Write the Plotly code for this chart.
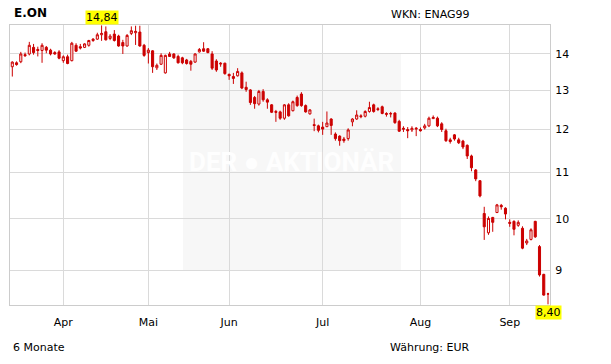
import math
import pandas as pd
import plotly.graph_objects as go

# ---- data -------------------------------------------------------------
holidays = ["2015-04-03", "2015-04-06", "2015-05-01", "2015-05-25"]
dates = [d.strftime("%Y-%m-%d") for d in pd.bdate_range("2015-03-16", "2015-09-14")
         if d.strftime("%Y-%m-%d") not in holidays]

open_ = [13.64, 13.75, 13.78, 13.98, 14.00, 14.19, 14.13, 14.10, 14.19, 14.11,
         14.04, 14.06, 13.81, 13.92, 13.81, 14.25, 14.21, 14.19, 14.25, 14.43,
         14.43, 14.56, 14.65, 14.45, 14.58, 14.52, 14.33, 14.23, 14.60, 14.62,
         14.64, 14.25, 14.04, 14.09, 13.61, 13.71, 13.47, 14.00, 14.00, 13.93,
         13.89, 13.83, 13.79, 13.77, 14.06, 14.15, 14.15, 14.00, 13.80, 13.74,
         13.74, 13.43, 13.37, 13.39, 13.47, 13.08, 13.01, 12.81, 12.64, 12.97,
         12.75, 12.62, 12.45, 12.44, 12.28, 12.62, 12.47, 12.81, 12.90, 12.60,
         12.39, 12.12, 12.09, 12.06, 12.07, 12.26, 11.89, 11.84, 11.77, 11.78,
         12.19, 12.26, 12.34, 12.33, 12.45, 12.62, 12.52, 12.57, 12.40, 12.40,
         12.41, 12.20, 12.03, 12.00, 11.99, 12.01, 12.00, 12.04, 12.09, 12.27,
         12.28, 12.14, 11.97, 11.75, 11.87, 11.75, 11.72, 11.62, 11.37, 11.05,
         10.81, 10.11, 9.72, 10.03, 10.13, 10.28, 10.22, 9.93, 9.95, 9.87,
         9.81, 9.52, 9.59, 9.95, 9.45, 8.93, 8.58]
high = [13.79, 13.79, 14.06, 14.04, 14.35, 14.29, 14.21, 14.31, 14.23, 14.15,
        14.08, 14.11, 13.96, 13.98, 14.35, 14.31, 14.29, 14.31, 14.41, 14.46,
        14.62, 14.84, 14.81, 14.58, 14.70, 14.56, 14.41, 14.58, 14.81, 14.83,
        14.83, 14.29, 14.17, 14.11, 13.73, 14.02, 13.98, 14.06, 14.02, 13.98,
        13.92, 13.86, 13.83, 14.02, 14.17, 14.34, 14.17, 14.08, 13.85, 13.77,
        13.75, 13.45, 13.47, 13.60, 13.51, 13.23, 13.03, 12.85, 13.01, 13.03,
        12.79, 12.64, 12.49, 12.47, 12.64, 12.66, 12.73, 12.86, 12.95, 12.63,
        12.51, 12.27, 12.12, 12.19, 12.45, 12.28, 11.93, 11.86, 11.82, 12.03,
        12.28, 12.48, 12.38, 12.48, 12.70, 12.65, 12.56, 12.60, 12.43, 12.44,
        12.43, 12.24, 12.08, 12.06, 12.08, 12.06, 12.05, 12.14, 12.32, 12.35,
        12.32, 12.18, 12.02, 11.80, 11.89, 11.80, 11.75, 11.64, 11.40, 11.07,
        10.82, 10.25, 10.05, 10.04, 10.31, 10.31, 10.24, 9.99, 9.97, 9.97,
        9.85, 9.60, 9.81, 9.96, 9.48, 8.94, 8.60]
low = [13.37, 13.67, 13.74, 13.92, 13.96, 13.98, 13.93, 13.75, 14.02, 13.96,
       13.98, 13.85, 13.75, 13.71, 13.79, 14.06, 14.13, 14.17, 14.21, 14.35,
       14.41, 14.38, 14.39, 14.40, 14.36, 14.21, 14.00, 14.21, 14.55, 14.26,
       14.21, 13.92, 13.73, 13.47, 13.55, 13.69, 13.45, 13.92, 13.86, 13.73,
       13.71, 13.70, 13.53, 13.75, 14.04, 14.06, 14.02, 13.55, 13.50, 13.64,
       13.42, 13.28, 13.17, 13.37, 13.03, 12.96, 12.62, 12.52, 12.60, 12.70,
       12.52, 12.41, 12.19, 12.24, 12.24, 12.32, 12.45, 12.57, 12.57, 12.42,
       12.37, 11.96, 11.93, 11.87, 12.06, 11.87, 11.73, 11.61, 11.68, 11.73,
       12.08, 12.24, 12.28, 12.30, 12.42, 12.42, 12.46, 12.38, 12.32, 12.30,
       12.14, 11.94, 11.94, 11.79, 11.94, 11.84, 11.95, 12.00, 12.06, 12.26,
       12.06, 11.94, 11.70, 11.66, 11.73, 11.65, 11.53, 11.30, 11.02, 10.80,
       10.45, 9.58, 9.68, 9.74, 10.12, 10.19, 9.99, 9.84, 9.67, 9.84,
       9.40, 9.48, 9.57, 9.62, 8.89, 8.55, 8.40]
close = [13.77, 13.70, 14.00, 13.95, 14.25, 14.04, 14.10, 14.25, 14.11, 14.00,
         14.00, 13.88, 13.92, 13.73, 14.31, 14.08, 14.17, 14.29, 14.39, 14.39,
         14.56, 14.60, 14.41, 14.52, 14.39, 14.23, 14.23, 14.54, 14.68, 14.66,
         14.23, 13.96, 14.11, 13.64, 13.68, 13.96, 13.96, 13.93, 13.89, 13.75,
         13.75, 13.73, 13.71, 14.00, 14.13, 14.08, 14.04, 13.60, 13.55, 13.72,
         13.45, 13.39, 13.32, 13.51, 13.06, 13.02, 12.68, 12.65, 12.97, 12.75,
         12.69, 12.43, 12.43, 12.28, 12.62, 12.34, 12.70, 12.60, 12.60, 12.44,
         12.49, 12.10, 11.98, 12.01, 12.16, 12.10, 11.78, 11.73, 11.73, 11.99,
         12.26, 12.36, 12.32, 12.45, 12.55, 12.45, 12.50, 12.40, 12.38, 12.39,
         12.17, 11.96, 12.01, 11.97, 12.03, 12.03, 11.97, 12.09, 12.28, 12.30,
         12.09, 12.00, 11.73, 11.71, 11.77, 11.68, 11.58, 11.37, 11.10, 10.85,
         10.48, 9.84, 10.01, 9.93, 10.29, 10.25, 10.10, 9.91, 9.79, 9.93,
         9.42, 9.56, 9.78, 9.64, 8.92, 8.56, 8.58]

month_ticks = ["2015-04-01", "2015-05-04", "2015-06-01", "2015-07-01", "2015-08-03", "2015-09-01"]
month_labels = ["Apr", "Mai", "Jun", "Jul", "Aug", "Sep"]
y_ticks = [9, 10, 11, 12, 13, 14]

# ---- figure -----------------------------------------------------------
RED = "#cc0000"
GRID = "#dadada"
FONT = "DejaVu Sans"

fig = go.Figure(go.Candlestick(
    x=dates, open=open_, high=high, low=low, close=close,
    increasing=dict(line=dict(color=RED, width=1), fillcolor="#ffffff"),
    decreasing=dict(line=dict(color=RED, width=1), fillcolor=RED),
    whiskerwidth=0, hoverinfo="skip", showlegend=False,
))

i_hi = max(range(len(high)), key=lambda i: high[i])
i_lo = min(range(len(low)), key=lambda i: low[i])

def de(v):
    return f"{v:.2f}".replace(".", ",")

W, H = 611, 364
ml, mr, mt, mb = 10, 61, 25, 59
pw, ph = W - ml - mr, H - mt - mb

def px(x):
    return (x - ml) / pw

def py(y):
    return (H - mb - y) / ph

annotations = [
    dict(x=dates[i_hi], y=1, xref="x", yref="paper", yanchor="bottom", xanchor="center",
         text=de(high[i_hi]), showarrow=False, bgcolor="#ffff00", borderpad=0,
         font=dict(family=FONT, size=11, color="#000")),
    dict(x=dates[i_lo], y=0, xref="x", yref="paper", yanchor="top", xanchor="center",
         text=de(low[i_lo]), showarrow=False, bgcolor="#ffff00", borderpad=0,
         font=dict(family=FONT, size=11, color="#000")),
    dict(x=px(12), y=py(13), xref="paper", yref="paper", xanchor="left", yanchor="middle",
         text="<b>E.ON</b>", showarrow=False, font=dict(family=FONT, size=12, color="#000")),
    dict(x=px(389), y=py(15), xref="paper", yref="paper", xanchor="left", yanchor="middle",
         text="WKN: ENAG99", showarrow=False, font=dict(family=FONT, size=11, color="#000")),
    dict(x=px(11), y=py(347), xref="paper", yref="paper", xanchor="left", yanchor="middle",
         text="6 Monate", showarrow=False, font=dict(family=FONT, size=11, color="#000")),
    dict(x=px(388), y=py(347), xref="paper", yref="paper", xanchor="left", yanchor="middle",
         text="Währung: EUR", showarrow=False, font=dict(family=FONT, size=11, color="#000")),
]

# watermark
fig.add_shape(type="rect", xref="paper", yref="paper", x0=px(183), x1=px(401),
              y0=py(270), y1=py(54), fillcolor="#f7f7f7", line=dict(width=0), layer="below")
annotations.insert(0, dict(x=px(291), y=py(162), xref="paper", yref="paper",
                           xanchor="center", yanchor="middle", showarrow=False,
                           text="<b>DER ● AKTIONÄR</b>",
                           font=dict(family="Roboto", size=26, color="#fefefe")))

fig.update_layout(
    width=W, height=H, margin=dict(l=ml, r=mr, t=mt, b=mb),
    paper_bgcolor="#ffffff", plot_bgcolor="#ffffff",
    font=dict(family=FONT, size=11, color="#000"),
    annotations=annotations,
    showlegend=False,
)
fig.update_xaxes(
    type="category", range=[-0.54, len(dates) - 0.53],
    tickvals=month_ticks, ticktext=month_labels,
    showgrid=True, gridcolor=GRID, gridwidth=1,
    showline=True, mirror=True, linecolor="#cccccc", linewidth=1,
    ticks="", ticklabelstandoff=7, rangeslider=dict(visible=False), zeroline=False,
    tickfont=dict(family=FONT, size=11, color="#000"),
)
fig.update_yaxes(
    type="log", range=[0.9237, 1.1718], side="right",
    tickvals=y_ticks, ticktext=[str(v) for v in y_ticks],
    showgrid=True, gridcolor=GRID, gridwidth=1,
    showline=True, mirror=True, linecolor="#cccccc", linewidth=1,
    ticks="", ticklabelstandoff=2, zeroline=False,
    tickfont=dict(family=FONT, size=11, color="#000"),
)

fig.write_html("out.html")
